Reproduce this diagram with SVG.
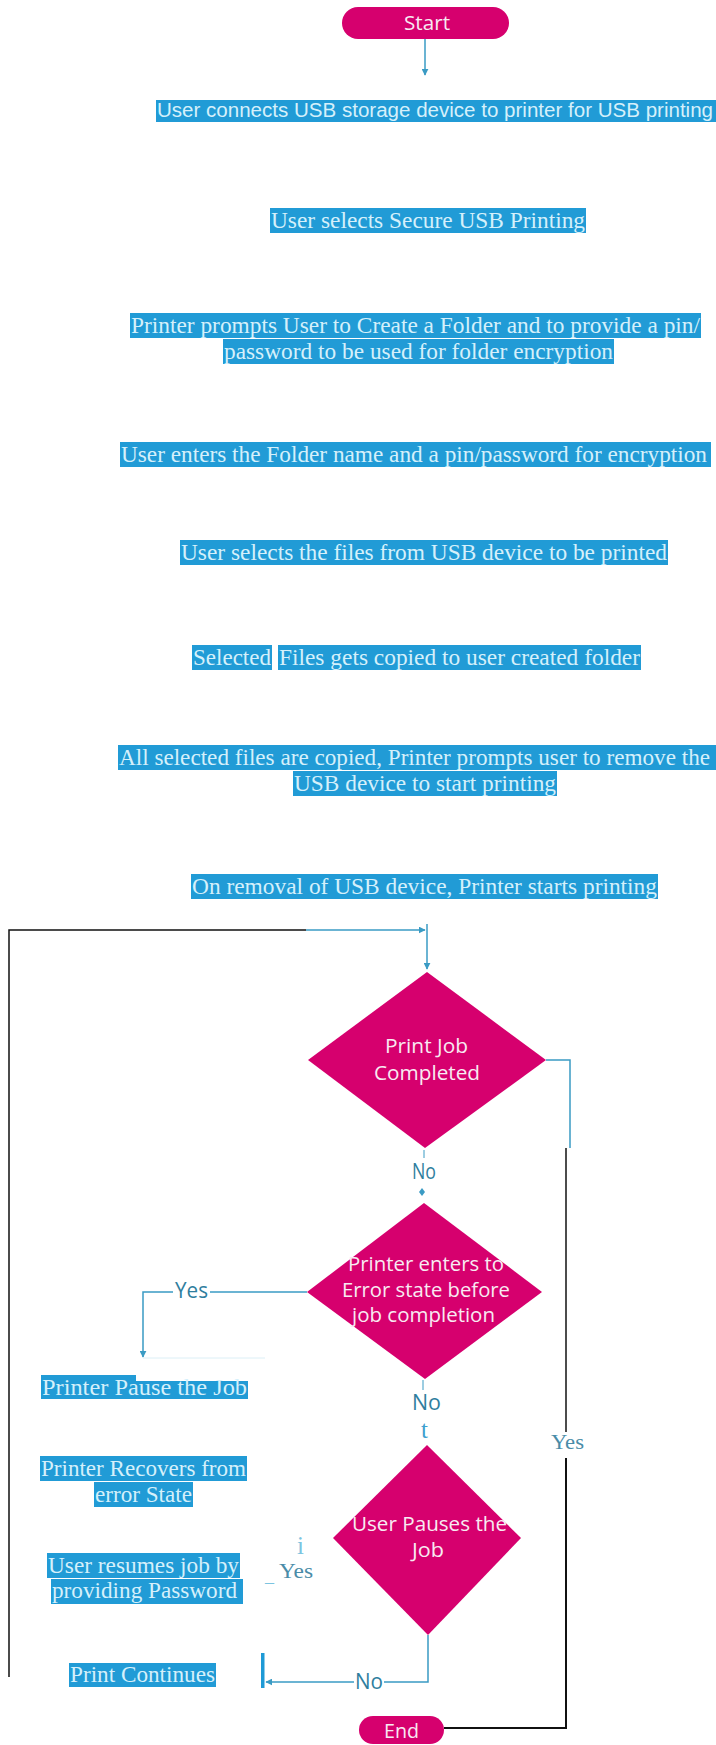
<svg xmlns="http://www.w3.org/2000/svg" width="716" height="1745" viewBox="0 0 716 1745">
<defs>
<style>
.hl{fill:#219BD6}
.ar{font-family:"Liberation Sans",Arial,sans-serif;font-size:20px;fill:#D5F0FB}
.tm{font-family:"Liberation Serif","Times New Roman",serif;font-size:23.5px;fill:#D5F0FB}
.dt{font-family:"Open Sans","Noto Sans",sans-serif;font-size:20.5px;fill:#F8EAF2;text-anchor:start}
.dm{fill:#D6006E}
.bl{fill:none;stroke:#3A9BC4;stroke-width:1.5}
.bk{fill:none;stroke:#111;stroke-width:1.5}
.lb{font-family:"Open Sans","Noto Sans",sans-serif;font-size:21px;fill:#2F7E9E}
.sl{font-family:"Liberation Serif","Times New Roman",serif;font-size:22px;fill:#4A8CA8}
</style>
<marker id="ah" viewBox="0 0 10 10" refX="9" refY="5" markerWidth="7" markerHeight="7" markerUnits="userSpaceOnUse" orient="auto">
<path d="M0,0 L10,5 L0,10 z" fill="#3A9BC4"/>
</marker>
</defs>
<rect width="716" height="1745" fill="#fff"/>

<g id="connectors">
<line class="bl" x1="425" y1="39" x2="425" y2="75" marker-end="url(#ah)"/>
<polyline class="bk" points="9,1677 9,930 306,930"/>
<line class="bl" x1="306" y1="930" x2="425" y2="930" marker-end="url(#ah)"/>
<line class="bl" x1="427" y1="924" x2="427" y2="969" marker-end="url(#ah)"/>
<polyline class="bl" points="546,1060 570,1060 570,1148"/>
<line class="bk" x1="566" y1="1148" x2="566" y2="1432"/>
<polyline class="bk" points="566,1458 566,1728 444,1728" style="stroke-width:2"/>
<line class="bl" x1="424" y1="1150" x2="424" y2="1158" style="stroke-width:1"/>
<path d="M422,1188 L425,1192 L422,1196 L419,1192 z" fill="#3A9BC4"/>
<line class="bl" x1="307" y1="1292" x2="210" y2="1292"/>
<polyline class="bl" points="173,1292 143,1292 143,1357" marker-end="url(#ah)"/>
<line x1="143" y1="1358" x2="265" y2="1358" stroke="#DCEFF6" stroke-width="1"/>
<line class="bl" x1="423" y1="1380" x2="423" y2="1390" style="stroke-width:1"/>
<polyline class="bl" points="428,1635 428,1682 384,1682"/>
<line class="bl" x1="354" y1="1682" x2="266" y2="1682" marker-end="url(#ah)"/>
<rect x="261" y="1653" width="3.5" height="35" fill="#1E9AD6"/>
</g>

<g id="start">
<rect x="342" y="7" width="167" height="32" rx="16" class="dm"/>
<text x="404" y="30" class="dt" textLength="46" lengthAdjust="spacingAndGlyphs">Start</text>
</g>

<g id="step1">
<rect class="hl" x="156" y="100" width="560" height="22"/>
<text class="ar" x="157" y="117" textLength="556" lengthAdjust="spacingAndGlyphs">User connects USB storage device to printer for USB printing</text>
</g>

<g id="step2">
<rect class="hl" x="270" y="208" width="316" height="25"/>
<text class="tm" x="271" y="228" textLength="314" lengthAdjust="spacingAndGlyphs">User selects Secure USB Printing</text>
</g>

<g id="step3">
<rect class="hl" x="130" y="313" width="571" height="25"/>
<text class="tm" x="131" y="333" textLength="569" lengthAdjust="spacingAndGlyphs">Printer prompts User to Create a Folder and to provide a pin/</text>
<rect class="hl" x="223" y="339" width="391" height="25"/>
<text class="tm" x="224" y="359" textLength="389" lengthAdjust="spacingAndGlyphs">password to be used for folder encryption</text>
</g>

<g id="step4">
<rect class="hl" x="120" y="442" width="591" height="25"/>
<text class="tm" x="121" y="462" textLength="586" lengthAdjust="spacingAndGlyphs">User enters the Folder name and a pin/password for encryption</text>
</g>

<g id="step5">
<rect class="hl" x="180" y="540" width="488" height="25"/>
<text class="tm" x="181" y="560" textLength="486" lengthAdjust="spacingAndGlyphs">User selects the files from USB device to be printed</text>
</g>

<g id="step6">
<rect class="hl" x="192" y="645" width="80" height="25"/>
<text class="tm" x="193" y="665" textLength="78" lengthAdjust="spacingAndGlyphs">Selected</text>
<rect class="hl" x="278" y="645" width="363" height="25"/>
<text class="tm" x="279" y="665" textLength="361" lengthAdjust="spacingAndGlyphs">Files gets copied to user created folder</text>
</g>

<g id="step7">
<rect class="hl" x="118" y="745" width="598" height="25"/>
<text class="tm" x="119" y="765" textLength="591" lengthAdjust="spacingAndGlyphs">All selected files are copied, Printer prompts user to remove the</text>
<rect class="hl" x="293" y="771" width="264" height="25"/>
<text class="tm" x="294" y="791" textLength="262" lengthAdjust="spacingAndGlyphs">USB device to start printing</text>
</g>

<g id="step8">
<rect class="hl" x="191" y="874" width="467" height="25"/>
<text class="tm" x="192" y="894" textLength="465" lengthAdjust="spacingAndGlyphs">On removal of USB device, Printer starts printing</text>
</g>

<g id="decision1">
<polygon class="dm" points="427,972 546,1060 425,1148 308,1060"/>
<text class="dt" x="385" y="1053" textLength="83" lengthAdjust="spacingAndGlyphs">Print Job</text>
<text class="dt" x="374" y="1080" textLength="106" lengthAdjust="spacingAndGlyphs">Completed</text>
</g>

<g id="label-no1"><text class="lb" x="412" y="1179" textLength="24" lengthAdjust="spacingAndGlyphs">No</text></g>

<g id="decision2">
<polygon class="dm" points="424,1203 542,1292 425,1379 307,1292"/>
<text class="dt" x="348" y="1271" textLength="156" lengthAdjust="spacingAndGlyphs">Printer enters to</text>
<text class="dt" x="342" y="1297" textLength="168" lengthAdjust="spacingAndGlyphs">Error state before</text>
<text class="dt" x="352" y="1322" textLength="143" lengthAdjust="spacingAndGlyphs">job completion</text>
</g>

<g id="label-yes1"><text class="lb" x="175" y="1298" textLength="33" lengthAdjust="spacingAndGlyphs">Yes</text></g>

<g id="pause">
<rect class="hl" x="41" y="1375" width="95" height="7"/>
<rect class="hl" x="41" y="1381" width="207" height="18"/>
<text class="tm" x="42" y="1395" textLength="205" lengthAdjust="spacingAndGlyphs">Printer Pause the Job</text>
</g>

<g id="label-no2">
<text class="lb" x="412" y="1410" textLength="29" lengthAdjust="spacingAndGlyphs">No</text>
<text x="421" y="1438" font-family="Liberation Serif, serif" font-size="25" fill="#3EA0CF">t</text>
</g>

<g id="label-yes-right"><text class="sl" x="551" y="1449" textLength="33" lengthAdjust="spacingAndGlyphs">Yes</text></g>

<g id="recovers">
<rect class="hl" x="40" y="1456" width="207" height="25"/>
<text class="tm" x="41" y="1476" textLength="205" lengthAdjust="spacingAndGlyphs">Printer Recovers from</text>
<rect class="hl" x="94" y="1482" width="99" height="25"/>
<text class="tm" x="95" y="1502" textLength="97" lengthAdjust="spacingAndGlyphs">error State</text>
</g>

<g id="decision3">
<polygon class="dm" points="427,1445 521,1538 428,1635 333,1538"/>
<text class="dt" x="352" y="1531" textLength="155" lengthAdjust="spacingAndGlyphs">User Pauses the</text>
<text class="dt" x="412" y="1557" textLength="32" lengthAdjust="spacingAndGlyphs">Job</text>
</g>

<g id="label-yes2">
<text x="297" y="1554" font-family="Liberation Serif, serif" font-size="25" fill="#7CC4E0">i</text>
<text x="265" y="1582" font-family="Liberation Serif, serif" font-size="18" fill="#7CC4E0">_</text>
<text class="sl" x="279" y="1578" textLength="34" lengthAdjust="spacingAndGlyphs">Yes</text>
</g>

<g id="resume">
<rect class="hl" x="47" y="1553" width="193" height="25"/>
<text class="tm" x="48" y="1573" textLength="191" lengthAdjust="spacingAndGlyphs">User resumes job by</text>
<rect class="hl" x="51" y="1579" width="192" height="25"/>
<text class="tm" x="52" y="1598" textLength="185" lengthAdjust="spacingAndGlyphs">providing Password</text>
</g>

<g id="continues">
<rect class="hl" x="69" y="1663" width="147" height="24"/>
<text class="tm" x="70" y="1682" textLength="145" lengthAdjust="spacingAndGlyphs">Print Continues</text>
</g>

<g id="label-no3"><text class="lb" x="355" y="1689" textLength="28" lengthAdjust="spacingAndGlyphs">No</text></g>

<g id="end">
<rect x="359" y="1716" width="85" height="28" rx="14" class="dm"/>
<text class="dt" x="384" y="1738" textLength="35" lengthAdjust="spacingAndGlyphs">End</text>
</g>
</svg>
